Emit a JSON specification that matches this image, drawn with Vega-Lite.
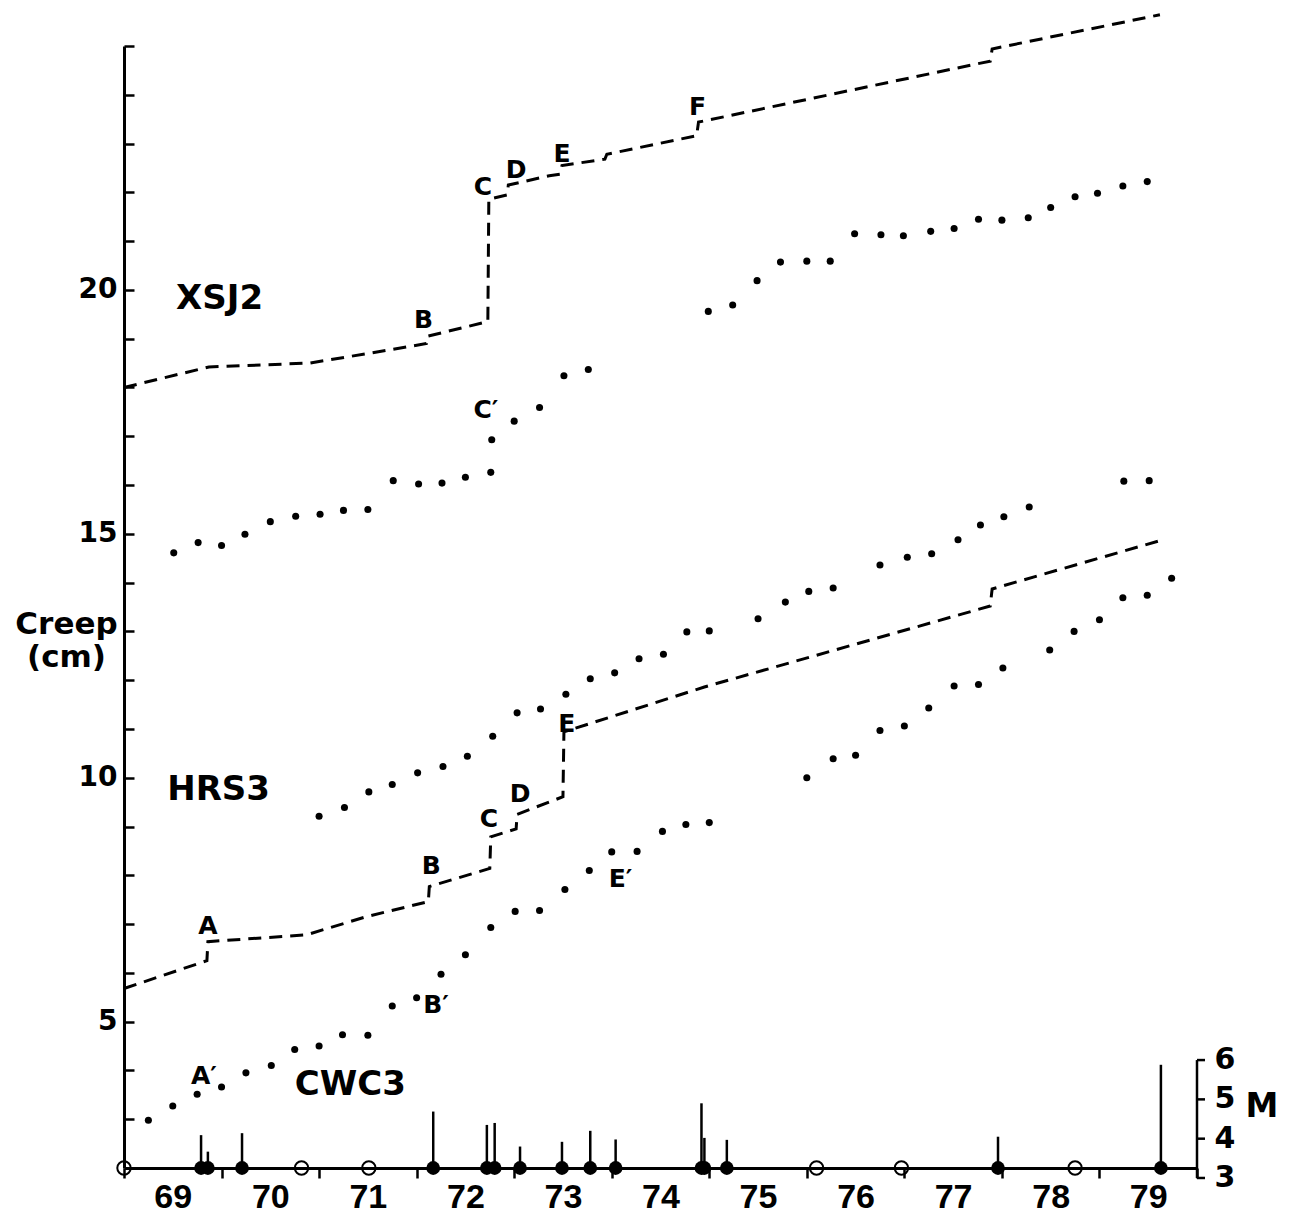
{
  "$schema": "https://vega.github.io/schema/vega-lite/v6.json",
  "width": 1073,
  "height": 1122,
  "autosize": {"type": "none"},
  "padding": {"left": 124, "top": 46, "right": 102, "bottom": 49},
  "background": "white",
  "config": {"view": {"stroke": null}, "axis": {"grid": false, "title": null}},
  "datasets": {
    "lines": [
      {"station": "XSJ2", "i": 1, "year": 69.0, "creep": 18.0},
      {"station": "XSJ2", "i": 2, "year": 69.87, "creep": 18.42},
      {"station": "XSJ2", "i": 3, "year": 70.9, "creep": 18.5},
      {"station": "XSJ2", "i": 4, "year": 71.48, "creep": 18.69},
      {"station": "XSJ2", "i": 5, "year": 72.1, "creep": 18.9},
      {"station": "XSJ2", "i": 6, "year": 72.11, "creep": 19.05},
      {"station": "XSJ2", "i": 7, "year": 72.73, "creep": 19.35},
      {"station": "XSJ2", "i": 8, "year": 72.74, "creep": 21.86},
      {"station": "XSJ2", "i": 9, "year": 72.93, "creep": 21.95},
      {"station": "XSJ2", "i": 10, "year": 72.94, "creep": 22.15},
      {"station": "XSJ2", "i": 11, "year": 73.36, "creep": 22.34},
      {"station": "XSJ2", "i": 12, "year": 73.47, "creep": 22.37},
      {"station": "XSJ2", "i": 13, "year": 73.49, "creep": 22.55},
      {"station": "XSJ2", "i": 14, "year": 73.93, "creep": 22.68},
      {"station": "XSJ2", "i": 15, "year": 73.95, "creep": 22.78},
      {"station": "XSJ2", "i": 16, "year": 74.87, "creep": 23.16},
      {"station": "XSJ2", "i": 17, "year": 74.89, "creep": 23.44},
      {"station": "XSJ2", "i": 18, "year": 77.88, "creep": 24.69},
      {"station": "XSJ2", "i": 19, "year": 77.9, "creep": 24.94},
      {"station": "XSJ2", "i": 20, "year": 79.62, "creep": 25.64},
      {"station": "HRS3", "i": 1, "year": 69.0, "creep": 5.68},
      {"station": "HRS3", "i": 2, "year": 69.85, "creep": 6.25},
      {"station": "HRS3", "i": 3, "year": 69.86, "creep": 6.64},
      {"station": "HRS3", "i": 4, "year": 70.87, "creep": 6.78},
      {"station": "HRS3", "i": 5, "year": 71.48, "creep": 7.15},
      {"station": "HRS3", "i": 6, "year": 72.12, "creep": 7.46},
      {"station": "HRS3", "i": 7, "year": 72.13, "creep": 7.77},
      {"station": "HRS3", "i": 8, "year": 72.75, "creep": 8.14},
      {"station": "HRS3", "i": 9, "year": 72.76, "creep": 8.79},
      {"station": "HRS3", "i": 10, "year": 73.02, "creep": 8.95},
      {"station": "HRS3", "i": 11, "year": 73.03, "creep": 9.25},
      {"station": "HRS3", "i": 12, "year": 73.5, "creep": 9.61},
      {"station": "HRS3", "i": 13, "year": 73.51, "creep": 10.94},
      {"station": "HRS3", "i": 14, "year": 74.95, "creep": 11.86},
      {"station": "HRS3", "i": 15, "year": 77.88, "creep": 13.52},
      {"station": "HRS3", "i": 16, "year": 77.9, "creep": 13.87},
      {"station": "HRS3", "i": 17, "year": 79.62, "creep": 14.86}
    ],
    "dots": [
      {"series": "upper", "year": 69.51, "creep": 14.61},
      {"series": "upper", "year": 69.76, "creep": 14.82},
      {"series": "upper", "year": 70.0, "creep": 14.76},
      {"series": "upper", "year": 70.24, "creep": 14.99},
      {"series": "upper", "year": 70.5, "creep": 15.25},
      {"series": "upper", "year": 70.76, "creep": 15.36},
      {"series": "upper", "year": 71.01, "creep": 15.4},
      {"series": "upper", "year": 71.25, "creep": 15.48},
      {"series": "upper", "year": 71.5, "creep": 15.5},
      {"series": "upper", "year": 71.76, "creep": 16.09},
      {"series": "upper", "year": 72.02, "creep": 16.02},
      {"series": "upper", "year": 72.26, "creep": 16.04},
      {"series": "upper", "year": 72.5, "creep": 16.16},
      {"series": "upper", "year": 72.76, "creep": 16.26},
      {"series": "upper", "year": 72.77, "creep": 16.93},
      {"series": "upper", "year": 73.0, "creep": 17.31},
      {"series": "upper", "year": 73.26, "creep": 17.59},
      {"series": "upper", "year": 73.51, "creep": 18.24},
      {"series": "upper", "year": 73.76, "creep": 18.37},
      {"series": "upper", "year": 74.99, "creep": 19.56},
      {"series": "upper", "year": 75.24, "creep": 19.69},
      {"series": "upper", "year": 75.49, "creep": 20.19},
      {"series": "upper", "year": 75.73, "creep": 20.57},
      {"series": "upper", "year": 76.0, "creep": 20.59},
      {"series": "upper", "year": 76.24, "creep": 20.59},
      {"series": "upper", "year": 76.49, "creep": 21.15},
      {"series": "upper", "year": 76.76, "creep": 21.13},
      {"series": "upper", "year": 76.99, "creep": 21.11},
      {"series": "upper", "year": 77.27, "creep": 21.2},
      {"series": "upper", "year": 77.51, "creep": 21.26},
      {"series": "upper", "year": 77.76, "creep": 21.45},
      {"series": "upper", "year": 78.0, "creep": 21.43},
      {"series": "upper", "year": 78.27, "creep": 21.48},
      {"series": "upper", "year": 78.5, "creep": 21.69},
      {"series": "upper", "year": 78.75, "creep": 21.91},
      {"series": "upper", "year": 78.98, "creep": 21.98},
      {"series": "upper", "year": 79.24, "creep": 22.13},
      {"series": "upper", "year": 79.49, "creep": 22.22},
      {"series": "middle", "year": 71.0, "creep": 9.21},
      {"series": "middle", "year": 71.26, "creep": 9.39},
      {"series": "middle", "year": 71.51, "creep": 9.71},
      {"series": "middle", "year": 71.75, "creep": 9.86},
      {"series": "middle", "year": 72.01, "creep": 10.1},
      {"series": "middle", "year": 72.27, "creep": 10.23},
      {"series": "middle", "year": 72.52, "creep": 10.44},
      {"series": "middle", "year": 72.78, "creep": 10.85},
      {"series": "middle", "year": 73.03, "creep": 11.33},
      {"series": "middle", "year": 73.27, "creep": 11.41},
      {"series": "middle", "year": 73.53, "creep": 11.71},
      {"series": "middle", "year": 73.78, "creep": 12.03},
      {"series": "middle", "year": 74.03, "creep": 12.15},
      {"series": "middle", "year": 74.28, "creep": 12.44},
      {"series": "middle", "year": 74.53, "creep": 12.53},
      {"series": "middle", "year": 74.77, "creep": 12.99},
      {"series": "middle", "year": 75.0, "creep": 13.01},
      {"series": "middle", "year": 75.5, "creep": 13.26},
      {"series": "middle", "year": 75.78, "creep": 13.6},
      {"series": "middle", "year": 76.02, "creep": 13.82},
      {"series": "middle", "year": 76.27, "creep": 13.89},
      {"series": "middle", "year": 76.75, "creep": 14.36},
      {"series": "middle", "year": 77.03, "creep": 14.52},
      {"series": "middle", "year": 77.28, "creep": 14.59},
      {"series": "middle", "year": 77.55, "creep": 14.88},
      {"series": "middle", "year": 77.78, "creep": 15.18},
      {"series": "middle", "year": 78.02, "creep": 15.35},
      {"series": "middle", "year": 78.28, "creep": 15.55},
      {"series": "middle", "year": 79.25, "creep": 16.08},
      {"series": "middle", "year": 79.51, "creep": 16.09},
      {"series": "CWC3", "year": 69.25, "creep": 2.98},
      {"series": "CWC3", "year": 69.5, "creep": 3.27},
      {"series": "CWC3", "year": 69.75, "creep": 3.51},
      {"series": "CWC3", "year": 70.0, "creep": 3.66},
      {"series": "CWC3", "year": 70.25, "creep": 3.95},
      {"series": "CWC3", "year": 70.51, "creep": 4.1},
      {"series": "CWC3", "year": 70.75, "creep": 4.43},
      {"series": "CWC3", "year": 71.0, "creep": 4.5},
      {"series": "CWC3", "year": 71.24, "creep": 4.73},
      {"series": "CWC3", "year": 71.5, "creep": 4.72},
      {"series": "CWC3", "year": 71.75, "creep": 5.32},
      {"series": "CWC3", "year": 72.0, "creep": 5.49},
      {"series": "CWC3", "year": 72.25, "creep": 5.97},
      {"series": "CWC3", "year": 72.5, "creep": 6.37},
      {"series": "CWC3", "year": 72.76, "creep": 6.93},
      {"series": "CWC3", "year": 73.01, "creep": 7.26},
      {"series": "CWC3", "year": 73.26, "creep": 7.28},
      {"series": "CWC3", "year": 73.52, "creep": 7.71},
      {"series": "CWC3", "year": 73.77, "creep": 8.1},
      {"series": "CWC3", "year": 74.0, "creep": 8.48},
      {"series": "CWC3", "year": 74.26, "creep": 8.49},
      {"series": "CWC3", "year": 74.52, "creep": 8.9},
      {"series": "CWC3", "year": 74.76, "creep": 9.04},
      {"series": "CWC3", "year": 75.0, "creep": 9.08},
      {"series": "CWC3", "year": 76.0, "creep": 10.0},
      {"series": "CWC3", "year": 76.27, "creep": 10.39},
      {"series": "CWC3", "year": 76.5, "creep": 10.46},
      {"series": "CWC3", "year": 76.75, "creep": 10.97},
      {"series": "CWC3", "year": 77.0, "creep": 11.06},
      {"series": "CWC3", "year": 77.25, "creep": 11.43},
      {"series": "CWC3", "year": 77.51, "creep": 11.88},
      {"series": "CWC3", "year": 77.76, "creep": 11.91},
      {"series": "CWC3", "year": 78.01, "creep": 12.25},
      {"series": "CWC3", "year": 78.49, "creep": 12.62},
      {"series": "CWC3", "year": 78.74, "creep": 13.0},
      {"series": "CWC3", "year": 79.0, "creep": 13.24},
      {"series": "CWC3", "year": 79.24, "creep": 13.69},
      {"series": "CWC3", "year": 79.49, "creep": 13.74},
      {"series": "CWC3", "year": 79.74, "creep": 14.09}
    ],
    "labels": [
      {"text": "XSJ2", "kind": "station", "year": 69.98, "creep": 19.82},
      {"text": "HRS3", "kind": "station", "year": 69.97, "creep": 9.75},
      {"text": "CWC3", "kind": "station", "year": 71.32, "creep": 3.71},
      {"text": "B", "kind": "letter", "year": 72.07, "creep": 19.39},
      {"text": "C", "kind": "letter", "year": 72.68, "creep": 22.11},
      {"text": "D", "kind": "letter", "year": 73.02, "creep": 22.46},
      {"text": "E", "kind": "letter", "year": 73.49, "creep": 22.79},
      {"text": "F", "kind": "letter", "year": 74.88, "creep": 23.75},
      {"text": "C′", "kind": "letter", "year": 72.71, "creep": 17.54},
      {"text": "A", "kind": "letter", "year": 69.86, "creep": 6.97},
      {"text": "B", "kind": "letter", "year": 72.15, "creep": 8.2},
      {"text": "C", "kind": "letter", "year": 72.74, "creep": 9.16},
      {"text": "D", "kind": "letter", "year": 73.06, "creep": 9.67},
      {"text": "E", "kind": "letter", "year": 73.54, "creep": 11.11},
      {"text": "A′", "kind": "letter", "year": 69.82, "creep": 3.89},
      {"text": "B′", "kind": "letter", "year": 72.2, "creep": 5.35},
      {"text": "E′", "kind": "letter", "year": 74.09, "creep": 7.93}
    ],
    "quakes": [
      {"year": 69.0, "M": null, "kind": "open"},
      {"year": 69.79, "M": 4.09, "kind": "filled"},
      {"year": 69.86, "M": 3.67, "kind": "filled"},
      {"year": 70.21, "M": 4.14, "kind": "filled"},
      {"year": 70.82, "M": null, "kind": "open"},
      {"year": 71.51, "M": null, "kind": "open"},
      {"year": 72.17, "M": 4.69, "kind": "filled"},
      {"year": 72.72, "M": 4.35, "kind": "filled"},
      {"year": 72.8, "M": 4.4, "kind": "filled"},
      {"year": 73.06, "M": 3.8, "kind": "filled"},
      {"year": 73.49, "M": 3.92, "kind": "filled"},
      {"year": 73.78, "M": 4.2, "kind": "filled"},
      {"year": 74.04, "M": 3.98, "kind": "filled"},
      {"year": 74.92, "M": 4.9, "kind": "filled"},
      {"year": 74.95, "M": 4.02, "kind": "filled"},
      {"year": 75.18, "M": 3.97, "kind": "filled"},
      {"year": 76.1, "M": null, "kind": "open"},
      {"year": 76.97, "M": null, "kind": "open"},
      {"year": 77.96, "M": 4.05, "kind": "filled"},
      {"year": 78.75, "M": null, "kind": "open"},
      {"year": 79.63, "M": 5.88, "kind": "filled"}
    ],
    "mscale": [{"M": 3}, {"M": 4}, {"M": 5}, {"M": 6}]
  },
  "layer": [
    {
      "layer": [
        {
          "data": {"name": "lines"},
          "mark": {"type": "line", "color": "black", "strokeWidth": 3, "strokeDash": [13, 8]},
          "encoding": {
            "x": {
              "field": "year", "type": "quantitative",
              "scale": {"domain": [69, 80], "nice": false, "zero": false},
              "axis": {
                "title": null,
                "values": [69, 70, 71, 72, 73, 74, 75, 76, 77, 78, 79, 80],
                "format": "d",
                "labelExpr": "datum.value < 80 ? datum.label : ''",
                "labelOffset": 48.75,
                "tickSize": 10, "tickWidth": 2.5, "tickColor": "black",
                "domainColor": "black", "domainWidth": 3,
                "labelFont": "Liberation Sans", "labelFontWeight": "bold", "labelFontSize": 34,
                "labelColor": "black", "labelPadding": 2,
                "labelOverlap": false, "labelFlush": false, "labelBound": false
              }
            },
            "y": {
              "field": "creep", "type": "quantitative",
              "scale": {"domain": [2, 25], "nice": false, "zero": false},
              "axis": {
                "title": ["Creep", "(cm)"],
                "titleAngle": 0, "titleX": -58, "titleY": 587,
                "titleAlign": "center", "titleBaseline": "alphabetic",
                "titleFont": "DejaVu Sans", "titleFontWeight": "bold", "titleFontSize": 31,
                "titleLineHeight": 33, "titleColor": "black",
                "values": [3, 4, 5, 6, 7, 8, 9, 10, 11, 12, 13, 14, 15, 16, 17, 18, 19, 20, 21, 22, 23, 24, 25],
                "format": "d",
                "labelExpr": "(datum.value % 5 === 0 && datum.value < 25) ? datum.label : ''",
                "tickSize": -10, "tickWidth": 2.5, "tickColor": "black",
                "domainColor": "black", "domainWidth": 3,
                "labelFont": "DejaVu Sans", "labelFontWeight": "bold", "labelFontSize": 28,
                "labelColor": "black", "labelPadding": 17,
                "labelOverlap": false, "labelFlush": false, "labelBound": false
              }
            },
            "detail": {"field": "station"},
            "order": {"field": "i", "type": "quantitative"}
          }
        },
        {
          "data": {"name": "dots"},
          "mark": {"type": "point", "shape": "circle", "filled": true, "size": 50, "color": "black", "opacity": 1},
          "encoding": {
            "x": {"field": "year", "type": "quantitative"},
            "y": {"field": "creep", "type": "quantitative"}
          }
        },
        {
          "data": {"name": "labels"},
          "transform": [{"filter": "datum.kind === 'station'"}],
          "mark": {"type": "text", "font": "DejaVu Sans", "fontWeight": "bold", "fontSize": 34, "color": "black", "align": "center", "baseline": "middle"},
          "encoding": {
            "x": {"field": "year", "type": "quantitative"},
            "y": {"field": "creep", "type": "quantitative"},
            "text": {"field": "text"}
          }
        },
        {
          "data": {"name": "labels"},
          "transform": [{"filter": "datum.kind === 'letter'"}],
          "mark": {"type": "text", "font": "DejaVu Sans", "fontWeight": "bold", "fontSize": 25, "color": "black", "align": "center", "baseline": "middle"},
          "encoding": {
            "x": {"field": "year", "type": "quantitative"},
            "y": {"field": "creep", "type": "quantitative"},
            "text": {"field": "text"}
          }
        }
      ]
    },
    {
      "layer": [
        {
          "data": {"name": "quakes"},
          "transform": [{"filter": "isValid(datum.M)"}],
          "mark": {"type": "rule", "color": "black", "strokeWidth": 2.5},
          "encoding": {
            "x": {"field": "year", "type": "quantitative"},
            "y": {"field": "M", "type": "quantitative", "scale": {"domain": [3.254, 31.8], "nice": false, "zero": false}, "axis": null},
            "y2": {"datum": 3.254}
          }
        },
        {
          "data": {"name": "quakes"},
          "transform": [{"filter": "datum.kind === 'filled'"}],
          "mark": {"type": "point", "shape": "circle", "filled": true, "size": 190, "color": "black", "opacity": 1},
          "encoding": {
            "x": {"field": "year", "type": "quantitative"},
            "y": {"datum": 3.254, "type": "quantitative", "axis": null}
          }
        },
        {
          "data": {"name": "quakes"},
          "transform": [{"filter": "datum.kind === 'open'"}],
          "mark": {"type": "point", "shape": "circle", "filled": false, "size": 180, "color": "black", "strokeWidth": 2, "opacity": 1},
          "encoding": {
            "x": {"field": "year", "type": "quantitative"},
            "y": {"datum": 3.254, "type": "quantitative", "axis": null}
          }
        },
        {
          "data": {"name": "mscale"},
          "mark": {"type": "rule", "color": "black", "strokeWidth": 2.5},
          "encoding": {
            "x": {"datum": 80, "type": "quantitative"},
            "y": {"aggregate": "min", "field": "M", "type": "quantitative", "axis": null},
            "y2": {"aggregate": "max", "field": "M"}
          }
        },
        {
          "data": {"name": "mscale"},
          "mark": {"type": "tick", "orient": "horizontal", "size": 8, "thickness": 2.5, "xOffset": 4, "color": "black", "opacity": 1},
          "encoding": {
            "x": {"datum": 80, "type": "quantitative"},
            "y": {"field": "M", "type": "quantitative", "axis": null}
          }
        },
        {
          "data": {"name": "mscale"},
          "mark": {"type": "text", "dx": 28, "font": "DejaVu Sans", "fontWeight": "bold", "fontSize": 30, "color": "black", "align": "center", "baseline": "middle"},
          "encoding": {
            "x": {"datum": 80, "type": "quantitative"},
            "y": {"field": "M", "type": "quantitative", "axis": null},
            "text": {"field": "M"}
          }
        },
        {
          "data": {"values": [{"t": "M"}]},
          "mark": {"type": "text", "dx": 65, "font": "DejaVu Sans", "fontWeight": "bold", "fontSize": 33, "color": "black", "align": "center", "baseline": "middle"},
          "encoding": {
            "x": {"datum": 80, "type": "quantitative"},
            "y": {"datum": 4.81, "type": "quantitative", "axis": null},
            "text": {"field": "t"}
          }
        }
      ]
    }
  ],
  "resolve": {"scale": {"y": "independent"}}
}
